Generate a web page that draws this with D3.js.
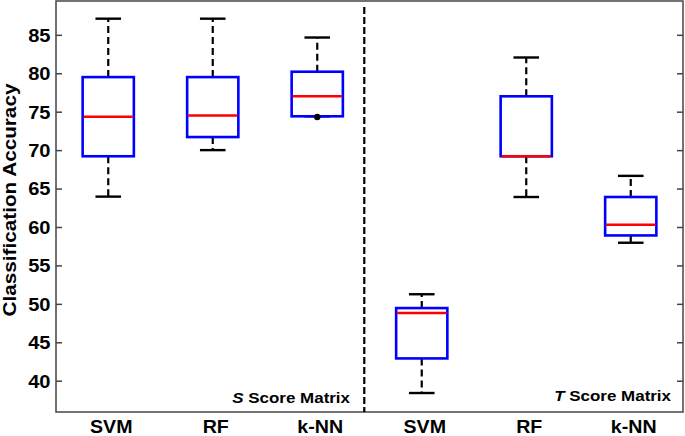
<!DOCTYPE html>
<html>
<head>
<meta charset="utf-8">
<script src="https://cdn.jsdelivr.net/npm/d3@7"></script>
<style>
  html, body { margin: 0; padding: 0; background: #fff; }
  svg text { font-family: "Liberation Sans", Arial, sans-serif; font-weight: bold; fill: #000; }
</style>
</head>
<body>
<svg id="chart" width="685" height="436"></svg>
<script>
// ---- data ----
const categories = ["SVM", "RF", "k-NN", "SVM", "RF", "k-NN"];
const positions = [1, 2, 3, 4, 5, 6];
const whiskerLow  = [63.95, 70.0, 74.4, 38.4, 63.9, 57.95];
const q1          = [69.2, 71.7, 74.4, 42.9, 69.2, 58.9];
const median      = [74.35, 74.5, 77.0, 48.8, 69.2, 60.3];
const q3          = [79.5, 79.5, 80.2, 49.45, 77.0, 63.9];
const whiskerHigh = [87.1, 87.1, 84.65, 51.25, 82.05, 66.65];
const outliers    = [[], [], [74.3], [], [], []];
const yTicks = [40, 45, 50, 55, 60, 65, 70, 75, 80, 85];
const dividerPos = 3.45;
const annotations = [
  { italic: "S", rest: " Score Matrix", pos: 3.45 },
  { italic: "T", rest: " Score Matrix", pos: 6.5 }
];

// ---- layout ----
const svg = d3.select("#chart");
const pLeft = 56, pRight = 683, pTop = 1, pBottom = 412;
const x = d3.scaleLinear().domain([0.5, 6.5]).range([pLeft, pRight]);
const y = d3.scaleLinear().domain([35.93, 89.4]).range([pBottom, pTop]);
const boxW = 0.49 * (x(2) - x(1));
const capW = 0.5 * boxW;
const stretch = 1.14; // reference font is wider than Liberation Sans Bold

// frame
svg.append("rect")
  .attr("x", pLeft).attr("y", pTop)
  .attr("width", pRight - pLeft).attr("height", pBottom - pTop)
  .attr("fill", "none").attr("stroke", "#444").attr("stroke-width", 1.5);

// left axis (inward ticks)
const yAxisL = d3.axisLeft(y).tickValues(yTicks).tickSizeInner(-6).tickSizeOuter(0);
const gL = svg.append("g").attr("transform", `translate(${pLeft},0)`).call(yAxisL);
gL.select(".domain").remove();
gL.selectAll(".tick line").attr("stroke", "#444").attr("stroke-width", 1.5);
gL.selectAll(".tick text")
  .style("font-size", "17.6px").attr("fill", "#000")
  .attr("x", 0).attr("dy", "0.36em")
  .attr("text-anchor", "end")
  .attr("transform", `translate(-5.5,0) scale(${stretch},1)`);

// right axis (inward ticks, no labels)
const yAxisR = d3.axisRight(y).tickValues(yTicks).tickSizeInner(-6).tickSizeOuter(0).tickFormat("");
const gR = svg.append("g").attr("transform", `translate(${pRight},0)`).call(yAxisR);
gR.select(".domain").remove();
gR.selectAll(".tick line").attr("stroke", "#444").attr("stroke-width", 1.5);

// x labels
const xAxis = d3.axisBottom(x).tickValues(positions)
  .tickFormat((d, i) => categories[i]).tickSize(0).tickPadding(8.5);
const gX = svg.append("g").attr("transform", `translate(0,${pBottom})`).call(xAxis);
gX.select(".domain").remove();
gX.selectAll(".tick text")
  .style("font-size", "18px").attr("fill", "#000")
  .attr("transform", `translate(2.5,0) scale(1.09,1)`);

// y label
svg.append("text")
  .attr("transform", `translate(15.5,200) rotate(-90) scale(1.12,1)`)
  .attr("text-anchor", "middle")
  .style("font-size", "18.5px")
  .text("Classification Accuracy");

// divider
svg.append("line")
  .attr("x1", x(dividerPos)).attr("x2", x(dividerPos))
  .attr("y1", pTop + 6).attr("y2", pBottom)
  .attr("stroke", "#000").attr("stroke-width", 2.2).attr("stroke-dasharray", "7,3");

// boxes
const g = svg.append("g");
positions.forEach((p, i) => {
  const cx = x(p);
  // whiskers (dashed)
  [[q3[i], whiskerHigh[i]], [q1[i], whiskerLow[i]]].forEach(([a, b]) => {
    if (Math.abs(a - b) > 0.01) {
      g.append("line").attr("x1", cx).attr("x2", cx)
        .attr("y1", y(a)).attr("y2", y(b))
        .attr("stroke", "#000").attr("stroke-width", 2.2).attr("stroke-dasharray", "7,4");
    }
  });
  // caps
  [whiskerHigh[i], whiskerLow[i]].forEach(v => {
    g.append("line").attr("x1", cx - capW / 2).attr("x2", cx + capW / 2)
      .attr("y1", y(v)).attr("y2", y(v))
      .attr("stroke", "#000").attr("stroke-width", 2.4);
  });
  // box
  g.append("rect")
    .attr("x", cx - boxW / 2).attr("y", y(q3[i]))
    .attr("width", boxW).attr("height", y(q1[i]) - y(q3[i]))
    .attr("fill", "none").attr("stroke", "#0000ff").attr("stroke-width", 2.6);
  // median
  g.append("line").attr("x1", cx - boxW / 2 + 1).attr("x2", cx + boxW / 2 - 1)
    .attr("y1", y(median[i])).attr("y2", y(median[i]))
    .attr("stroke", "#ff0000").attr("stroke-width", 2.6);
  // outliers
  outliers[i].forEach(v => {
    g.append("circle").attr("cx", cx).attr("cy", y(v)).attr("r", 3.2).attr("fill", "#000");
  });
});

// annotations
const annoRight = [350, 671];
const annoBase = [403.3, 400.5];
annotations.forEach((a, i) => {
  const t = svg.append("text")
    .attr("transform", `translate(${annoRight[i]},${annoBase[i]}) scale(1.13,1)`)
    .attr("text-anchor", "end")
    .style("font-size", "15px");
  t.append("tspan").style("font-style", "italic").text(a.italic);
  t.append("tspan").text(a.rest);
});
</script>
</body>
</html>
